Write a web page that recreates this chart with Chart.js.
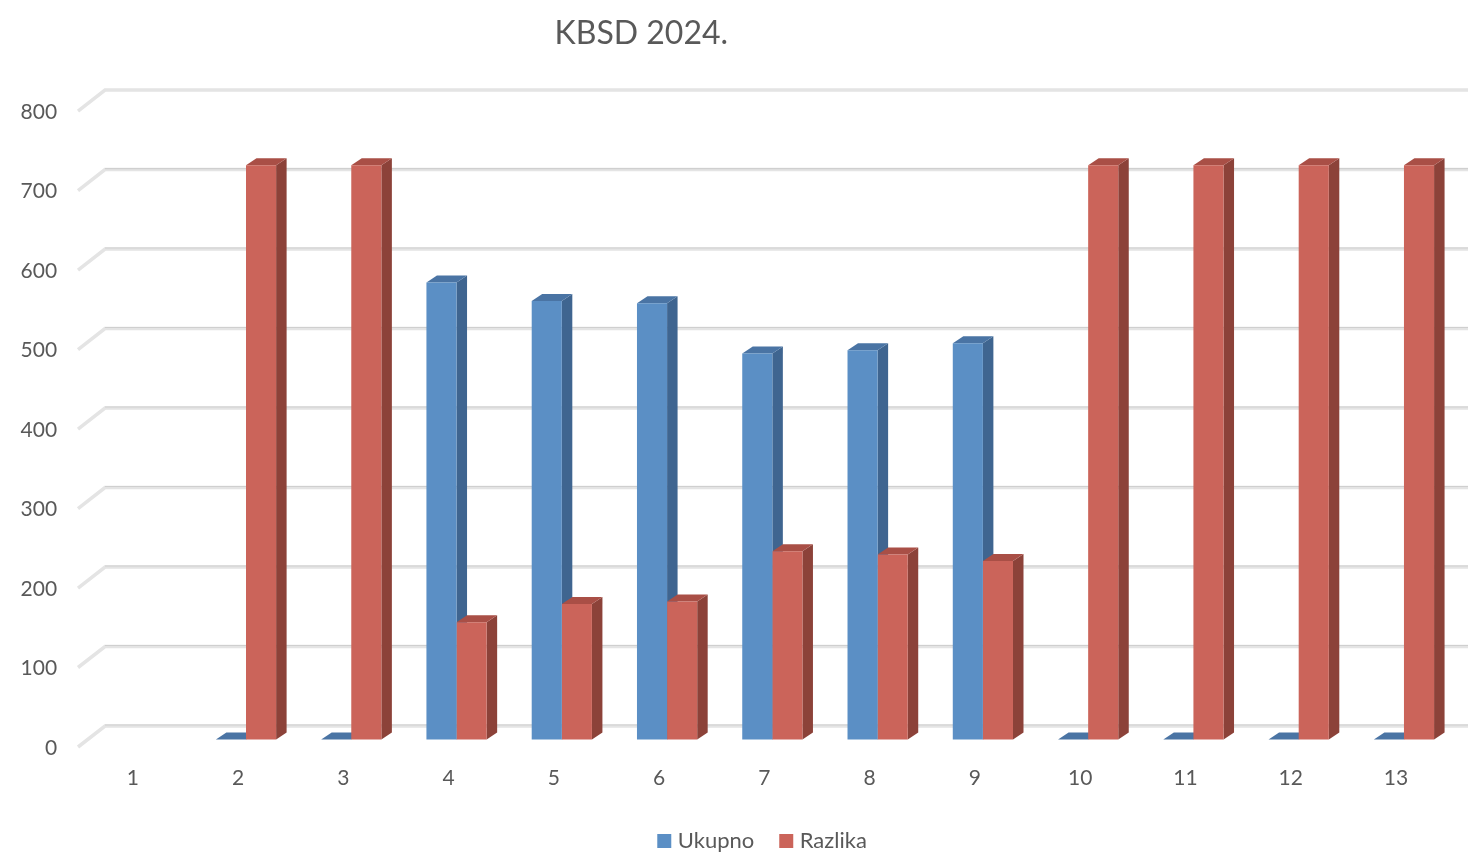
<!DOCTYPE html>
<html>
<head>
<meta charset="utf-8">
<title>KBSD 2024.</title>
<script src="https://cdn.jsdelivr.net/npm/chart.js@4"></script>
<style>
body { margin: 0; background: #fff; }
canvas { display: block; }
</style>
</head>
<body>
<canvas id="myChart" width="1468" height="853"></canvas>
<script>
const categories = ['1', '2', '3', '4', '5', '6', '7', '8', '9', '10', '11', '12', '13'];
const ukupno = [null, 0, 0, 573, 550, 547, 484, 488, 497, 0, 0, 0, 0];
const razlika = [null, 720, 720, 147, 170, 173, 236, 232, 224, 720, 720, 720, 720];
const yTicks = [0, 100, 200, 300, 400, 500, 600, 700, 800];

// side and top colours of the fake 3d bars
const shades = [
    { side: '#3f6590', top: '#4a74a4' },
    { side: '#8c4239', top: '#a94f46' }
];
const barDepth = { x: 10.5, y: 7 };
const wallDepth = { x: 27, y: 20 };

function poly(ctx, color, pts) {
    ctx.fillStyle = color;
    ctx.beginPath();
    ctx.moveTo(pts[0][0], pts[0][1]);
    pts.slice(1).forEach(p => ctx.lineTo(p[0], p[1]));
    ctx.closePath();
    ctx.fill();
}

const fake3d = {
    id: 'fake3d',
    afterLayout(chart) {
        // title and legend are not centred in the original
        chart.titleBlock.left -= 87;
        chart.titleBlock.right -= 87;
        chart.legend.left += 36;
        chart.legend.right += 36;
        chart.legend.top += 9;
        chart.legend.bottom += 9;
    },
    beforeDatasetsDraw(chart) {
        const ctx = chart.ctx;
        const scale = chart.scales.yLabels;
        ctx.save();

        // back wall grid lines and the slanted part on the floor side
        yTicks.forEach(v => {
            const py = scale.getPixelForValue(v);
            const backY = py - wallDepth.y;
            ctx.strokeStyle = '#e4e4e4';
            ctx.lineWidth = 3.5;
            ctx.beginPath();
            ctx.moveTo(78, py + 1);
            ctx.lineTo(78 + wallDepth.x, backY);
            ctx.lineTo(chart.width, backY);
            ctx.stroke();
            if (v !== 800) {
                ctx.strokeStyle = '#cfcfcf';
                ctx.lineWidth = 1.2;
                ctx.beginPath();
                ctx.moveTo(78 + wallDepth.x, backY - 1);
                ctx.lineTo(chart.width, backY - 1);
                ctx.stroke();
            }
        });

        // sides and tops, the fronts are the real bars
        chart.data.datasets.forEach((ds, d) => {
            chart.getDatasetMeta(d).data.forEach((bar, i) => {
                if (ds.data[i] === null) return;
                const l = bar.x - bar.width / 2;
                const r = bar.x + bar.width / 2;
                const dx = barDepth.x;
                const dy = barDepth.y;
                poly(ctx, shades[d].side, [[r, bar.y], [r + dx, bar.y - dy], [r + dx, bar.base - dy], [r, bar.base]]);
                poly(ctx, shades[d].top, [[l, bar.y], [l + dx, bar.y - dy], [r + dx, bar.y - dy], [r, bar.y]]);
            });
        });
        ctx.restore();
    }
};

const ctx = document.getElementById('myChart');

const myChart = new Chart(ctx, {
    type: 'bar',
    data: {
        labels: categories,
        datasets: [{
            label: 'Ukupno',
            data: ukupno,
            backgroundColor: '#5b8fc5',
            borderWidth: 0
        }, {
            label: 'Razlika',
            data: razlika,
            backgroundColor: '#cb645a',
            borderWidth: 0
        }]
    },
    plugins: [fake3d],
    options: {
        responsive: false,
        animation: false,
        font: { family: 'Lato' },
        layout: { padding: { right: 11.4 } },
        datasets: {
            bar: { barPercentage: 1, categoryPercentage: 0.572 }
        },
        scales: {
            x: {
                grid: { display: false },
                border: { display: false },
                afterFit: s => { s.height = 44.5; },
                ticks: {
                    color: '#595959',
                    font: { family: 'Lato', size: 21 },
                    padding: 10.5,
                    labelOffset: -8,
                    maxRotation: 0
                }
            },
            y: {
                display: false,
                min: -9.39,
                max: 814.5
            },
            yLabels: {
                position: 'left',
                min: -1.26,
                max: 825.2,
                grid: { display: false },
                border: { display: false },
                afterFit: s => { s.width = 88.1; },
                afterBuildTicks: s => { s.ticks = yTicks.map(v => ({ value: v })); },
                ticks: {
                    color: '#595959',
                    font: { family: 'Lato', size: 21 },
                    padding: 23,
                    labelOffset: 2
                }
            }
        },
        plugins: {
            tooltip: { enabled: false },
            title: {
                display: true,
                text: 'KBSD 2024.',
                color: '#595959',
                font: { family: 'Lato', size: 32, weight: 'normal' },
                padding: { top: 14, bottom: 37.6 }
            },
            legend: {
                position: 'bottom',
                labels: {
                    color: '#595959',
                    font: { family: 'Lato', size: 22 },
                    padding: 29.5,
                    boxWidth: 5,
                    boxHeight: 5,
                    generateLabels: chart => Chart.defaults.plugins.legend.labels.generateLabels(chart).map(item => {
                        item.lineWidth = 9;
                        item.strokeStyle = item.fillStyle;
                        return item;
                    })
                }
            }
        }
    }
});
</script>
</body>
</html>
